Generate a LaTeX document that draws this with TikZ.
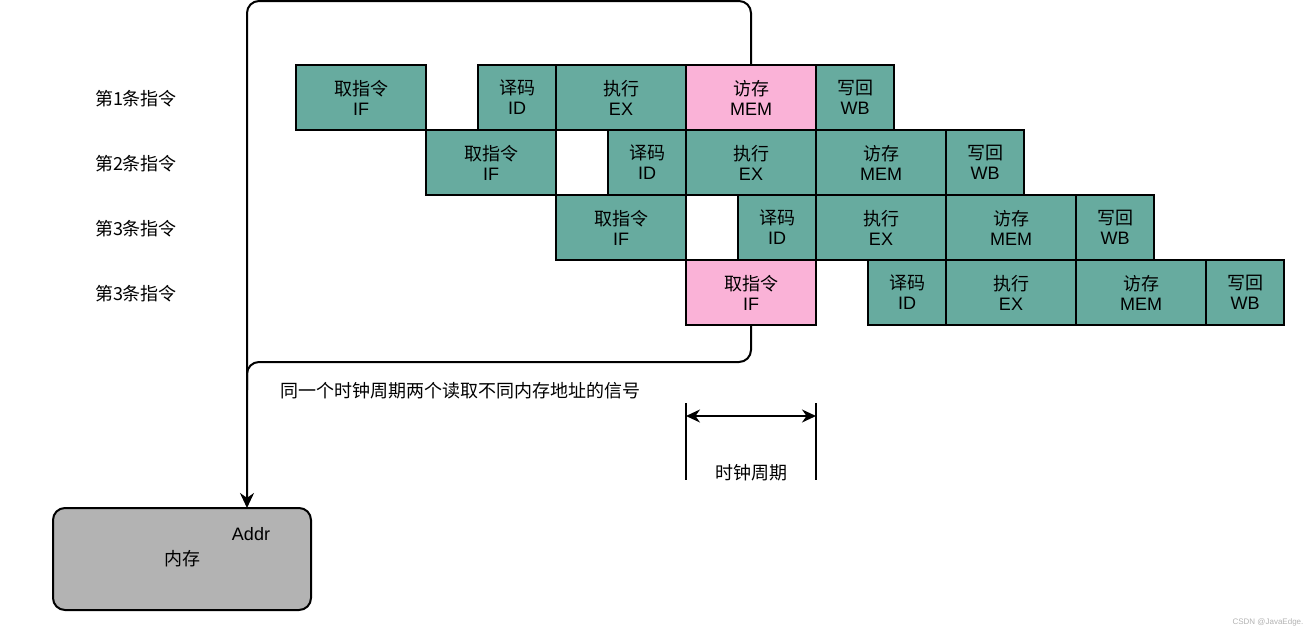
\documentclass[tikz,border=0pt]{standalone}
\usepackage{fontspec}
\setmainfont{Liberation Sans}
\newfontfamily\cjk{Noto Sans CJK SC}
\usetikzlibrary{positioning,arrows.meta}
\definecolor{stage}{RGB}{103,171,159}
\definecolor{hit}{RGB}{250,178,215}
\definecolor{ramfill}{RGB}{179,179,179}
\tikzset{
  box/.style={draw, line width=1pt, align=center, outer sep=0pt, inner sep=0pt,
              minimum height=32.5pt, font=\fontsize{9}{10}\selectfont},
  longbox/.style={box, minimum width=65pt},
  shortbox/.style={box, minimum width=39pt},
  bus/.style={line width=1pt, rounded corners=6pt},
  tick/.style={line width=1pt},
  lab/.style={font=\cjk\fontsize{9}{11}\selectfont},
}

\begin{document}
\begin{tikzpicture}[x=0.5pt, y=-0.5pt, node distance=0pt]
  \useasboundingbox (0,0) rectangle (1314,637);

  % one row of stages per instruction
  \foreach \r/\x/\ifc/\memc in {1/296/stage/hit, 2/426/stage/stage,
                                3/556/stage/stage, 4/686/hit/stage} {
    \node[longbox, fill=\ifc, anchor=north west] (if\r) at (\x, 65*\r) {{\cjk 取指令}\\IF};
    \node[shortbox, fill=stage, right=26pt of if\r] (id\r) {{\cjk 译码}\\ID};
    \node[longbox, fill=stage, right=of id\r] (ex\r) {{\cjk 执行}\\EX};
    \node[longbox, fill=\memc, right=of ex\r] (mem\r) {{\cjk 访存}\\MEM};
    \node[shortbox, fill=stage, right=of mem\r] (wb\r) {{\cjk 写回}\\WB};
  }

  \foreach \r/\lbl in {1/第1条指令, 2/第2条指令, 3/第3条指令, 4/第3条指令}
    \node[lab] (row\r) at (136, 65*\r+34) {\lbl};

  \node[draw, line width=1pt, fill=ramfill, rounded corners=6pt,
        minimum width=129pt, minimum height=51pt, lab] (ram) at (182,559) {内存};
  \node[font=\fontsize{9}{10}\selectfont] (addr) at (251,534) {Addr};
  \coordinate (port) at (247,508);

  % two reads in the same cycle
  \draw[bus, -{Stealth[length=7.5pt, width=7pt]}] (mem1.north) -- ++(0,-64) -| (port);
  \draw[bus] (if4.south) -- ++(0,37) -| ++(-504,28);

  \node[lab, anchor=west] (note) at (273,391) {同一个时钟周期两个读取不同内存地址的信号};

  \coordinate (ta) at (686,403);
  \coordinate (tb) at (816,403);
  \draw[tick] (ta) -- ++(0,77);
  \draw[tick] (tb) -- ++(0,77);
  \draw[tick, {Stealth[length=7pt, width=6.5pt]}-{Stealth[length=7pt, width=6.5pt]}]
    ([yshift=-6.5pt]ta) -- ([yshift=-6.5pt]tb);
  \node[lab] (cyc) at (751,473) {时钟周期};

  \node[font=\fontsize{4}{5}\selectfont, text=gray!60] (mark) at (1268,622) {CSDN @JavaEdge.};
\end{tikzpicture}
\end{document}
